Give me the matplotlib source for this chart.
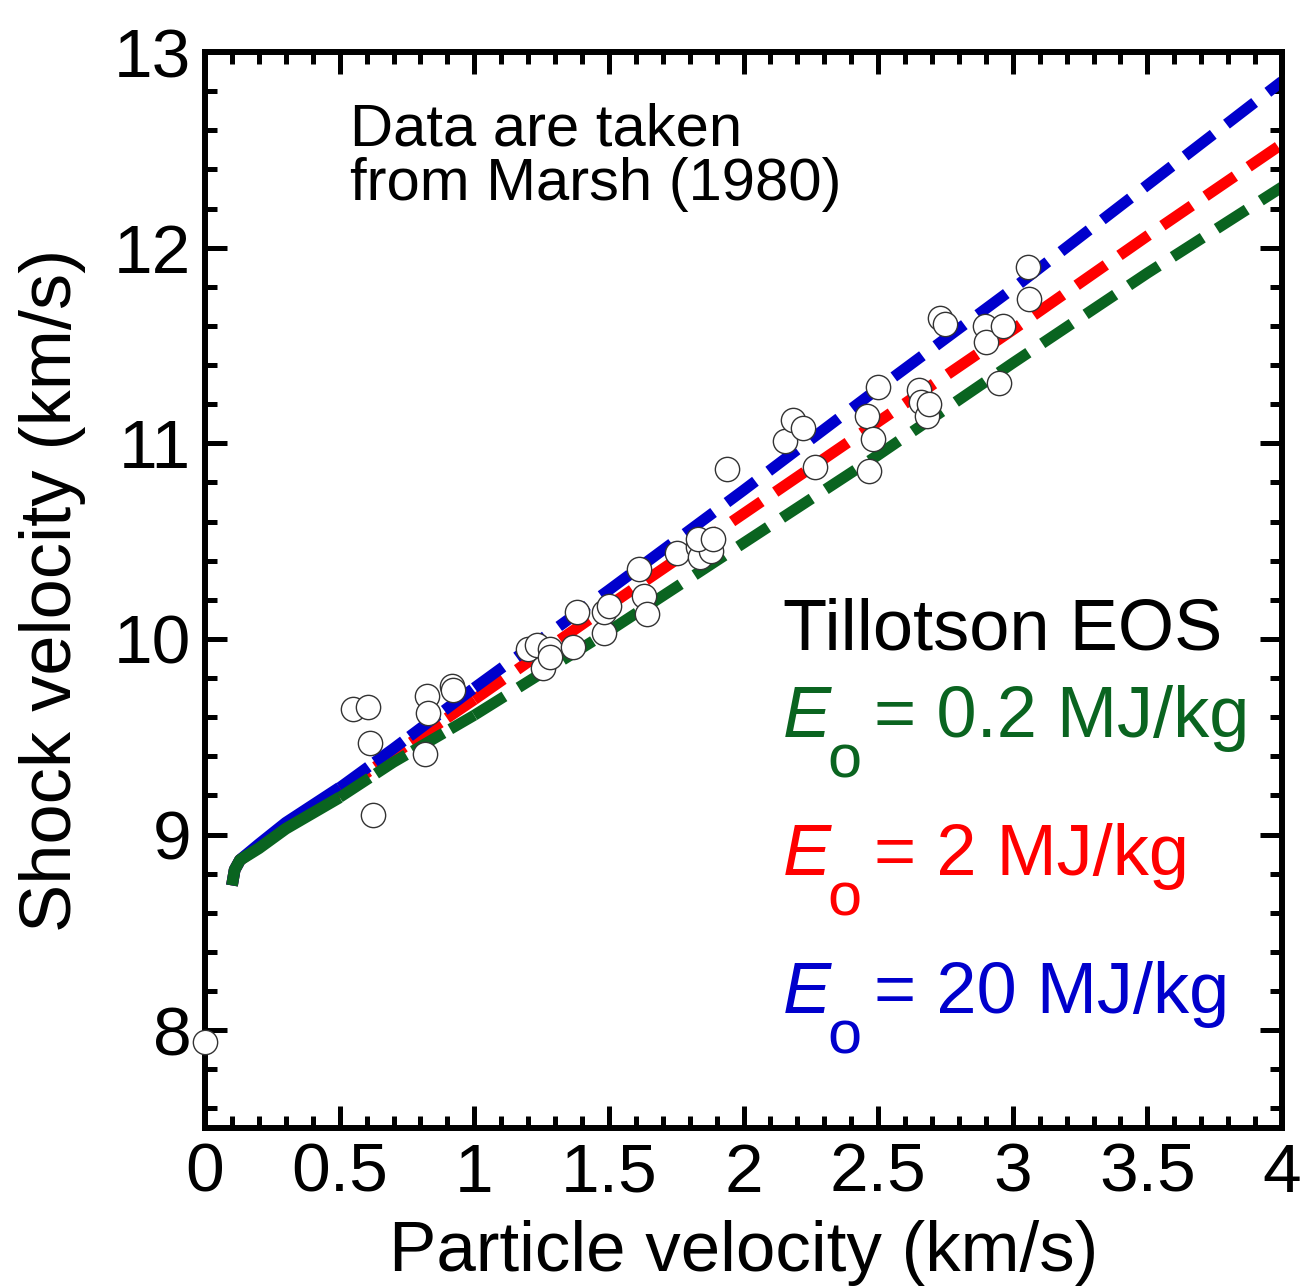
import matplotlib.pyplot as plt
from matplotlib.ticker import MultipleLocator

plt.rcParams['font.family'] = ['Liberation Sans', 'DejaVu Sans']

# Tillotson EOS Hugoniot curves
u_curve = [0.1, 0.11, 0.13, 0.2, 0.3, 0.5, 0.7, 1.0, 1.5, 2.0, 2.5, 3.0, 3.5, 4.0]
us_green = [8.74, 8.82, 8.87, 8.93, 9.03, 9.19, 9.37, 9.61, 10.04, 10.49, 10.94, 11.41, 11.87, 12.31]
us_red = [8.74, 8.82, 8.87, 8.94, 9.05, 9.22, 9.41, 9.69, 10.17, 10.64, 11.11, 11.58, 12.06, 12.53]
us_blue = [8.74, 8.82, 8.87, 8.95, 9.06, 9.24, 9.44, 9.75, 10.25, 10.76, 11.28, 11.79, 12.32, 12.85]

# Marsh (1980) data
up_data = [0.0, 0.55, 0.605, 0.613, 0.624, 0.817, 0.824, 0.828, 0.917, 0.92,
           1.20, 1.233, 1.255, 1.28, 1.28, 1.367, 1.38, 1.48, 1.48, 1.50,
           1.61, 1.63, 1.64, 1.753, 1.83, 1.84, 1.88, 1.83, 1.887, 1.94,
           2.154, 2.185, 2.22, 2.266, 2.46, 2.48, 2.466, 2.50,
           2.65, 2.66, 2.68, 2.69, 2.73, 2.75, 2.897, 2.90, 2.963, 2.95,
           3.057, 3.06]
us_data = [7.94, 9.64, 9.65, 9.47, 9.10, 9.41, 9.71, 9.62, 9.76, 9.74,
           9.95, 9.97, 9.85, 9.95, 9.91, 9.96, 10.14, 10.03, 10.14, 10.17,
           10.36, 10.22, 10.13, 10.44, 10.47, 10.42, 10.45, 10.51, 10.51, 10.87,
           11.01, 11.12, 11.08, 10.88, 11.14, 11.02, 10.86, 11.29,
           11.27, 11.21, 11.14, 11.20, 11.64, 11.61, 11.60, 11.52, 11.60, 11.31,
           11.90, 11.74]

green = '#0a6420'
red = '#ff0000'
blue = '#0000cc'

fig = plt.figure(figsize=(13.01, 12.88), dpi=100)
ax = fig.add_axes([0.1576, 0.1242, 0.8278, 0.8354])

# dense sampling near the start looks continuous, then tighter dashes, then normal dashes
for us, c in [(us_red, red), (us_blue, blue), (us_green, green)]:
    ax.plot(u_curve[:6], us[:6], '-', color=c, lw=8.5, solid_capstyle='butt')
    ax.plot(u_curve[5:8], us[5:8], '-', color=c, lw=8, dashes=(3.2, 0.7),
            dash_capstyle='butt')
    ax.plot(u_curve[7:], us[7:], '-', color=c, lw=8, dashes=(3.2, 1.5),
            dash_capstyle='butt')

ax.plot(up_data, us_data, 'o', ms=17.5, mfc='white', mec='#333333', mew=1.0,
        clip_on=False, zorder=5)

ax.set_xlim(0, 4)
ax.set_ylim(7.5, 13)
ax.xaxis.set_major_locator(MultipleLocator(0.5))
ax.xaxis.set_minor_locator(MultipleLocator(0.1))
ax.yaxis.set_major_locator(MultipleLocator(1))
ax.yaxis.set_minor_locator(MultipleLocator(0.2))
ax.xaxis.set_major_formatter(plt.FuncFormatter(lambda v, p: '%g' % v))
ax.tick_params(which='both', direction='in', top=True, right=True, labelsize=50)
ax.tick_params(which='major', length=16, width=3.6, pad=10)
ax.tick_params(which='minor', length=8.6, width=3.6)
for s in ax.spines.values():
    s.set_linewidth(4.3)

ax.set_xlabel('Particle velocity (km/s)', fontsize=51, labelpad=10)
ax.set_ylabel('Shock velocity (km/s)', fontsize=52, labelpad=20)

def px(x, y):
    # figure pixel -> figure fraction
    return x / 1301, 1 - y / 1288

ax.text(*px(350, 145), 'Data are taken', transform=fig.transFigure, fontsize=43, va='baseline')
ax.text(*px(350, 200), 'from Marsh (1980)', transform=fig.transFigure, fontsize=43, va='baseline')
ax.text(*px(783, 650), 'Tillotson EOS', transform=fig.transFigure, fontsize=52, va='baseline')

for i, (lab, c) in enumerate([('0.2 MJ/kg', green), ('2 MJ/kg', red), ('20 MJ/kg', blue)]):
    yb = 737 + i * 138
    ax.text(*px(783, yb), 'E', transform=fig.transFigure, fontsize=52, style='italic',
            color=c, va='baseline')
    ax.text(*px(827, yb + 41), 'o', transform=fig.transFigure, fontsize=44, color=c,
            va='baseline')
    ax.text(*px(874, yb), '= ' + lab, transform=fig.transFigure, fontsize=52, color=c,
            va='baseline')

fig.savefig('out.png', dpi=100)
